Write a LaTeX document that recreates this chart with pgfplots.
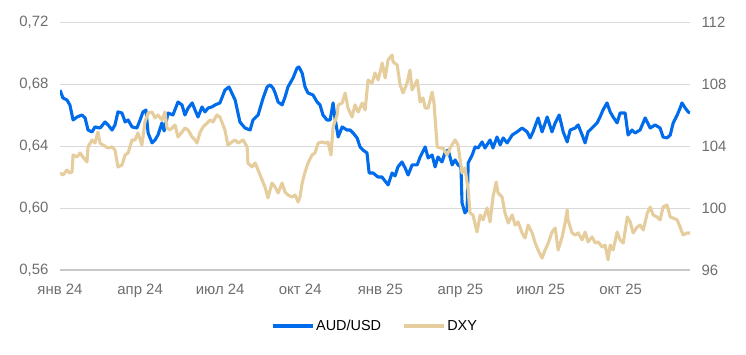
\documentclass[border=0pt]{standalone}
\usepackage{pgfplots}
\pgfplotsset{compat=1.18}
\usepackage{fontspec}
\setmainfont{Liberation Sans}
\definecolor{audc}{RGB}{0,108,235}
\definecolor{dxyc}{RGB}{229,205,158}
\definecolor{gridc}{RGB}{217,217,217}
\definecolor{basec}{RGB}{200,200,200}
\definecolor{tickc}{RGB}{110,110,110}
\begin{document}
\begin{tikzpicture}
\useasboundingbox (0,0) rectangle (746bp,355bp);
\pgfplotsset{
  common/.style={
    at={(60bp,85bp)}, anchor=south west,
    scale only axis, width=630bp, height=248bp,
    xmin=0, xmax=23.6,
    major tick length=0pt,
    /pgf/number format/assume math mode=true,
    ticklabel style={font=\fontsize{15}{18}\selectfont, text=tickc},
  }
}
\begin{axis}[common,
  ymin=0.56, ymax=0.72,
  ytick={0.56,0.60,0.64,0.68,0.72},
  yticklabel style={/pgf/number format/fixed, /pgf/number format/fixed zerofill, /pgf/number format/precision=2, /pgf/number format/use comma, /tikz/xshift=-8bp},
  xtick={0,3,6,9,12,15,18,21},
  xticklabels={янв 24,апр 24,июл 24,окт 24,янв 25,апр 25,июл 25,окт 25},
  axis x line*=bottom, axis y line*=left,
  x axis line style={-, draw=basec, line width=1.3bp},
  y axis line style={draw=none},
  ymajorgrids, grid style={draw=gridc, line width=0.8bp},
  xticklabel style={/tikz/yshift=-11bp},
]
\addplot[audc, line width=3.1bp, line join=round] coordinates {
(0.00,0.6761)(0.11,0.6710)(0.26,0.6697)(0.37,0.6665)(0.49,0.6568)(0.64,0.6587)(0.82,0.6600)(0.94,0.6581)
(1.05,0.6503)(1.20,0.6491)(1.31,0.6523)(1.50,0.6516)(1.69,0.6555)(1.80,0.6536)(1.95,0.6503)(2.06,0.6536)
(2.17,0.6620)(2.32,0.6613)(2.44,0.6555)(2.55,0.6568)(2.70,0.6523)(2.88,0.6516)(3.00,0.6568)(3.11,0.6620)
(3.22,0.6632)(3.30,0.6484)(3.45,0.6420)(3.56,0.6439)(3.67,0.6471)(3.82,0.6549)(3.90,0.6497)(4.05,0.6613)
(4.23,0.6600)(4.42,0.6684)(4.57,0.6665)(4.68,0.6600)(4.80,0.6645)(4.95,0.6678)(5.06,0.6632)(5.17,0.6587)
(5.32,0.6652)(5.43,0.6620)(5.55,0.6645)(5.69,0.6652)(5.81,0.6665)(5.99,0.6678)(6.18,0.6761)(6.33,0.6781)
(6.56,0.6697)(6.74,0.6555)(6.93,0.6516)(7.12,0.6503)(7.23,0.6568)(7.42,0.6600)(7.61,0.6710)(7.76,0.6781)
(7.87,0.6794)(7.98,0.6774)(8.06,0.6742)(8.17,0.6684)(8.32,0.6665)(8.43,0.6716)(8.54,0.6781)(8.73,0.6839)
(8.88,0.6903)(8.95,0.6910)(9.07,0.6871)(9.18,0.6781)(9.29,0.6742)(9.48,0.6729)(9.63,0.6684)(9.74,0.6665)
(9.85,0.6600)(10.00,0.6568)(10.12,0.6568)(10.23,0.6678)(10.30,0.6581)(10.42,0.6458)(10.57,0.6523)(10.75,0.6503)
(10.87,0.6503)(10.98,0.6484)(11.13,0.6452)(11.24,0.6394)(11.35,0.6374)(11.50,0.6355)(11.58,0.6226)(11.73,0.6226)
(11.91,0.6200)(12.06,0.6200)(12.29,0.6149)(12.44,0.6226)(12.55,0.6207)(12.66,0.6265)(12.81,0.6297)(12.93,0.6258)
(13.04,0.6213)(13.19,0.6278)(13.38,0.6278)(13.49,0.6329)(13.68,0.6394)(13.79,0.6323)(13.94,0.6342)(14.05,0.6265)
(14.16,0.6329)(14.31,0.6297)(14.42,0.6355)(14.54,0.6374)(14.69,0.6278)(14.80,0.6310)(14.91,0.6278)(15.02,0.6265)
(15.06,0.6033)(15.17,0.5968)(15.25,0.5987)(15.29,0.6291)(15.44,0.6342)(15.55,0.6394)(15.66,0.6387)(15.81,0.6426)
(15.92,0.6387)(16.11,0.6439)(16.22,0.6387)(16.37,0.6458)(16.49,0.6407)(16.60,0.6452)(16.75,0.6420)(16.94,0.6471)
(17.12,0.6491)(17.31,0.6516)(17.50,0.6491)(17.61,0.6452)(17.72,0.6491)(17.91,0.6581)(18.06,0.6491)(18.25,0.6587)
(18.43,0.6491)(18.55,0.6549)(18.70,0.6600)(18.85,0.6491)(19.00,0.6426)(19.11,0.6503)(19.30,0.6516)(19.41,0.6536)
(19.56,0.6471)(19.67,0.6420)(19.78,0.6491)(19.97,0.6523)(20.12,0.6549)(20.23,0.6587)(20.34,0.6632)(20.49,0.6678)
(20.61,0.6620)(20.72,0.6587)(20.87,0.6549)(20.98,0.6613)(21.17,0.6613)(21.28,0.6471)(21.43,0.6503)(21.54,0.6484)
(21.73,0.6503)(21.92,0.6581)(22.11,0.6516)(22.29,0.6536)(22.48,0.6516)(22.59,0.6458)(22.74,0.6452)(22.86,0.6471)
(22.97,0.6549)(23.12,0.6600)(23.23,0.6645)(23.30,0.6678)(23.42,0.6645)(23.53,0.6620)(23.60,0.6613)
};
\end{axis}
\begin{axis}[common,
  ymin=96, ymax=112,
  ytick={96,100,104,108,112},
  axis y line*=right, axis x line=none,
  y axis line style={draw=none},
  yticklabel style={/tikz/xshift=8bp},
  legend style={at={(0.5,-0.226)}, anchor=center, draw=none, fill=none,
    font=\fontsize{14.5}{17}\selectfont, text=black,
    /tikz/every even column/.append style={column sep=19bp},
    inner sep=0pt, nodes={inner sep=2bp}},
  legend columns=2,
  legend cell align=left,
  legend image code/.code={\draw[#1] (0bp,0bp) -- (40bp,0bp);},
]
\addlegendimage{audc, line width=3.1bp}
\addlegendentry{AUD/USD}
\addplot[dxyc, line width=3.1bp, line join=round] coordinates {
(0.00,102.26)(0.11,102.13)(0.26,102.45)(0.37,102.26)(0.45,102.32)(0.49,103.42)(0.64,103.29)(0.75,103.55)
(0.86,103.29)(1.01,102.97)(1.05,103.94)(1.20,104.39)(1.31,104.19)(1.42,104.90)(1.50,104.19)(1.61,104.06)
(1.80,103.87)(1.95,103.94)(2.06,103.74)(2.17,102.65)(2.32,102.77)(2.44,103.42)(2.55,103.55)(2.70,104.39)
(2.81,104.39)(2.92,104.84)(3.07,104.06)(3.18,105.55)(3.30,106.13)(3.45,106.19)(3.56,105.81)(3.67,106.00)
(3.82,105.68)(3.93,106.19)(4.01,105.16)(4.12,105.03)(4.31,105.35)(4.42,104.58)(4.57,104.90)(4.68,105.16)
(4.80,105.03)(4.95,104.58)(5.06,104.39)(5.13,104.19)(5.25,104.90)(5.36,105.23)(5.51,105.48)(5.62,105.68)
(5.73,105.55)(5.88,106.00)(5.99,105.87)(6.18,105.03)(6.29,104.06)(6.44,104.26)(6.56,104.39)(6.67,104.19)
(6.86,104.39)(7.01,103.94)(7.04,102.90)(7.19,102.65)(7.31,102.90)(7.42,102.45)(7.57,101.81)(7.68,101.35)
(7.79,100.65)(7.94,101.61)(8.06,101.35)(8.17,100.97)(8.32,101.61)(8.43,101.03)(8.54,100.84)(8.69,100.71)
(8.81,100.84)(8.92,100.39)(8.99,100.71)(9.07,101.61)(9.18,102.32)(9.29,102.90)(9.44,103.42)(9.55,103.55)
(9.67,104.19)(9.82,104.26)(9.93,104.19)(10.04,104.26)(10.15,103.42)(10.23,105.23)(10.38,106.00)(10.42,106.65)
(10.57,106.77)(10.68,107.42)(10.79,106.45)(10.94,105.87)(11.05,106.65)(11.17,106.19)(11.32,106.77)(11.43,106.32)
(11.54,108.26)(11.69,108.06)(11.80,108.71)(11.92,108.26)(12.07,109.35)(12.18,108.39)(12.29,109.55)(12.44,109.87)
(12.48,109.42)(12.63,109.23)(12.74,107.94)(12.85,107.42)(13.00,108.06)(13.11,108.90)(13.19,107.61)(13.38,108.26)
(13.49,106.84)(13.60,107.10)(13.68,106.45)(13.79,106.45)(13.94,107.48)(14.01,106.77)(14.13,103.94)(14.24,103.87)
(14.35,103.87)(14.50,103.42)(14.61,103.87)(14.80,104.39)(14.91,104.06)(15.06,102.26)(15.17,102.58)(15.29,101.16)
(15.36,99.68)(15.47,99.55)(15.62,98.45)(15.74,99.55)(15.85,99.23)(16.00,100.00)(16.11,99.10)(16.22,100.71)
(16.34,101.68)(16.41,100.97)(16.56,100.71)(16.67,99.68)(16.79,99.03)(16.94,99.55)(17.05,98.90)(17.16,99.10)
(17.31,98.39)(17.42,98.06)(17.54,98.90)(17.69,98.39)(17.80,97.74)(17.91,97.29)(18.06,96.77)(18.17,97.29)
(18.29,97.74)(18.43,98.45)(18.55,98.71)(18.66,97.29)(18.81,98.13)(18.92,99.03)(19.00,99.87)(19.03,99.23)
(19.18,98.39)(19.30,98.26)(19.41,98.39)(19.56,97.94)(19.67,98.45)(19.78,97.81)(19.93,98.13)(20.05,97.74)
(20.16,97.81)(20.31,97.48)(20.42,97.61)(20.53,96.65)(20.61,97.61)(20.72,97.29)(20.87,98.45)(20.98,97.94)
(21.10,97.74)(21.25,99.42)(21.36,99.10)(21.47,98.39)(21.62,98.77)(21.73,98.90)(21.85,98.58)(22.00,99.68)
(22.11,100.06)(22.22,99.55)(22.37,99.42)(22.48,99.23)(22.59,100.06)(22.74,100.19)(22.86,99.42)(22.97,99.35)
(23.12,99.23)(23.23,98.77)(23.34,98.26)(23.49,98.39)(23.60,98.39)
};
\addlegendentry{DXY}
\end{axis}
\end{tikzpicture}
\end{document}
